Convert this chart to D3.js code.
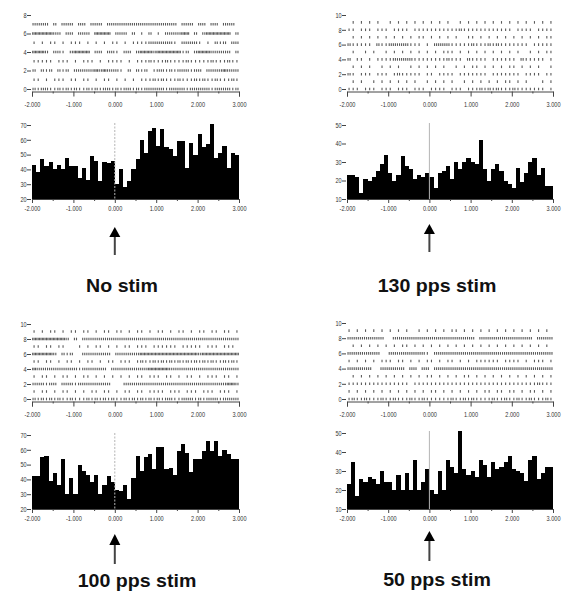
<!DOCTYPE html>
<html>
<head>
<meta charset="utf-8">
<script src="https://cdn.jsdelivr.net/npm/d3@7"></script>
<style>
  html, body { margin: 0; padding: 0; background: #fff; }
  svg { display: block; }
</style>
</head>
<body>
<script>
// ---- data -------------------------------------------------------------
// peri-stimulus time axis (s)
const timeTicks = [-2, -1, 0, 1, 2, 3];
const timeMinorTicks = [-1.5, -0.5, 0.5, 1.5, 2.5];
const binWidth = 0.1;
const binStarts = d3.range(50).map(i => -2 + i * binWidth);

const conditionNames = ["No stim", "130 pps stim", "100 pps stim", "50 pps stim"];

// firing rate per 100 ms bin (spikes/s)
const rateNoStim = [43, 38, 47, 42, 45, 40, 43, 40, 48, 42,
                    42, 34, 41, 33, 49, 46, 32, 45, 44, 46,
                    30, 40, 28, 32, 40, 47, 60, 51, 66, 68,
                    56, 67, 55, 54, 49, 59, 59, 41, 58, 50,
                    64, 55, 57, 71, 48, 51, 56, 41, 51, 50];
const rate130 = [23, 23, 22, 13, 21, 20, 22, 25, 29, 34,
                 24, 20, 23, 33, 28, 26, 21, 23, 22, 24,
                 22, 16, 24, 25, 28, 21, 30, 26, 30, 32,
                 30, 29, 42, 26, 20, 26, 29, 25, 20, 18,
                 16, 27, 19, 24, 30, 32, 23, 27, 17, 17];
const rate100 = [42, 42, 55, 56, 39, 44, 36, 54, 30, 41,
                 30, 50, 46, 43, 38, 43, 30, 36, 42, 38,
                 33, 32, 36, 27, 41, 56, 46, 55, 57, 47,
                 62, 62, 47, 48, 43, 59, 64, 58, 45, 54,
                 54, 59, 66, 59, 66, 56, 60, 57, 54, 54];
const rate50 = [23, 35, 17, 26, 24, 27, 26, 23, 30, 24,
                24, 20, 28, 20, 29, 20, 36, 20, 24, 31,
                20, 18, 30, 20, 36, 32, 29, 51, 31, 28,
                30, 27, 36, 33, 27, 35, 31, 32, 35, 38,
                31, 30, 29, 25, 36, 38, 26, 29, 32, 32];

// spike rasters: one string per trial (bottom trial first),
// each digit = number of spikes in a 100 ms slot
const rasterNoStim = [
  "2122112121 2112121221 2122121222 2212222122 2221222212",
  "1101011101 1011010110 1010101112 1211121112 1211211121",
  "2021202120 2222232322 2102021201 2212122212 2022223222",
  "1111101110 1011101011 1101011121 1121111211 1112111211",
  "3332022102 3333022022 1022023332 3333331202 3332222202",
  "1010110101 1101010101 1010111122 2222102222 1010212022",
  "3333322022 0222033330 2220201020 1022223302 0233333302",
  "2222020222 0220222022 2222222222 2222202220 2202202220"
];
const raster130 = [
  "1110111011 1011101110 1111011101 1121212111 2111111101",
  "0101001010 1010101001 0101010010 1010101011 0101000101",
  "2101110111 0121111101 1011110111 1111011111 1101111011",
  "0101010010 1010010101 0101001010 1101010101 1010101001",
  "2011010111 1222221111 1111211102 1111011111 1021111101",
  "0100101001 0101010101 0101110101 0101010101 0100101011",
  "2111110211 2222211101 0222211111 2111212111 1111011111",
  "0101010101 0101010110 1010101001 1010101010 1010101011",
  "1101110111 0111101111 1111111211 1111111111 0111101111",
  "0101010100 1010101010 1010100101 0101010101 0101010101"
];
const raster100 = [
  "2121212112 1112121212 1121212121 2122112221 2122212222",
  "1011010110 1010110110 1011011011 1101110111 0111011101",
  "2221220222 1222222220 0022222222 2222222222 2222222332",
  "1011010110 1011010101 0101011011 1011010110 1011101101",
  "3222222222 2122222202 2222222233 3332222222 2222222222",
  "1101101011 0101101011 0111012112 1212121212 1212112121",
  "3333320212 0022222220 2222223333 3333333333 2333333333",
  "1101101100 0101011010 1011011101 1111101111 1011101110",
  "3333333320 2022222222 2222222222 2222222222 2222222222",
  "1010110101 1011010110 1101011010 1101011010 1101101101"
];
const raster50 = [
  "1211211121 1211121121 1111121121 2111121121 1211211121",
  "1010101010 1010101010 1101010101 0101101101 1010110101",
  "1111111111 1111101111 1111111111 1111111111 1111112111",
  "0101010101 0101010101 1010101011 0101010101 0101010101",
  "2222220022 2222022022 0222222222 2222222222 2222222222",
  "1010101011 1011010101 1010110101 0111111011 1101011101",
  "2222222200 2222222221 0222222222 2222222222 2222222222",
  "0101010101 0101101010 1010101010 1010101010 1010101010",
  "2222222220 0222222222 2222222222 2022222222 2222202222",
  "1010101010 1010100101 0101011010 1010101010 1010101010"
];

const rasterTicks8 = [0, 2, 4, 6, 8];
const rasterTicks10 = [0, 2, 4, 6, 8, 10];
const rateTicksHigh = [20, 30, 40, 50, 60, 70];
const rateTicksLow = [10, 20, 30, 40, 50];

// ---- layout -----------------------------------------------------------
const W = 565, H = 591;
const panels = [
  { title: conditionNames[0], rates: rateNoStim, raster: rasterNoStim,
    rMax: 8, rTicks: rasterTicks8, hDomain: [20, 70], hTicks: rateTicksHigh,
    xr: [32, 239], rY: [89, 15], hY: [199, 125],
    arrow: [227, 237, 255], titleX: 122, titleY: 292, zeroDash: "2,1.5" },
  { title: conditionNames[1], rates: rate130, raster: raster130,
    rMax: 10, rTicks: rasterTicks10, hDomain: [10, 50], hTicks: rateTicksLow,
    xr: [347, 553], rY: [89, 15], hY: [199, 125],
    arrow: [224, 234, 252], titleX: 437, titleY: 292, zeroDash: null },
  { title: conditionNames[2], rates: rate100, raster: raster100,
    rMax: 10, rTicks: rasterTicks10, hDomain: [20, 70], hTicks: rateTicksHigh,
    xr: [32, 239], rY: [399, 324], hY: [509, 435],
    arrow: [534, 545, 564], titleX: 137, titleY: 587, zeroDash: "2,1.5" },
  { title: conditionNames[3], rates: rate50, raster: raster50,
    rMax: 10, rTicks: rasterTicks10, hDomain: [10, 50], hTicks: rateTicksLow,
    xr: [347, 553], rY: [399, 323], hY: [509, 433],
    arrow: [531, 541, 561], titleX: 437, titleY: 586, zeroDash: null }
];

const svg = d3.select("body").append("svg")
  .attr("width", W).attr("height", H)
  .attr("font-family", "'Liberation Sans', Arial, sans-serif");
svg.append("rect").attr("width", W).attr("height", H).attr("fill", "#fff");

const tickFont = 7, tickSquash = 0.8, tickColor = "#333";

function styleAxis(g) {
  g.selectAll("path.domain").attr("stroke", "#444").attr("stroke-width", 1);
  g.selectAll(".tick line").attr("stroke", "#444");
  g.selectAll(".tick text")
    .attr("font-size", tickFont)
    .attr("fill", tickColor)
    .attr("font-family", "'Liberation Sans', Arial, sans-serif")
    .attr("transform", `scale(${tickSquash},1)`);
}

function timeAxis(parent, x, yPos, majorLen, pad) {
  const g = parent.append("g").attr("transform", `translate(0,${yPos})`);
  g.call(d3.axisBottom(x).tickValues(timeTicks)
    .tickFormat(d => d.toFixed(3)).tickSize(majorLen).tickPadding(pad));
  const gm = parent.append("g").attr("transform", `translate(0,${yPos})`);
  gm.call(d3.axisBottom(x).tickValues(timeMinorTicks).tickFormat("").tickSize(2));
  gm.select("path.domain").remove();
  styleAxis(g); styleAxis(gm);
}

function leftAxis(parent, y, ticks, xPos) {
  const g = parent.append("g").attr("transform", `translate(${xPos},0)`);
  g.call(d3.axisLeft(y).tickValues(ticks).tickSize(4).tickPadding(1.5));
  g.select("path.domain").remove();
  styleAxis(g);
}

panels.forEach(p => {
  const g = svg.append("g");
  const x = d3.scaleLinear().domain([-2, 3]).range(p.xr);

  // ---- raster ----
  const yr = d3.scaleLinear().domain([0, p.rMax]).range(p.rY);
  const spikes = [];
  p.raster.forEach((row, trial) => {
    const counts = row.replace(/\s/g, "").split("").map(Number);
    counts.forEach((n, slot) => {
      for (let j = 0; j < n; j++) {
        spikes.push({ trial, t: binStarts[slot] + (j + 0.5) / n * binWidth });
      }
    });
  });
  g.append("g").selectAll("line").data(spikes).join("line")
    .attr("x1", d => x(d.t)).attr("x2", d => x(d.t))
    .attr("y1", d => yr(d.trial) - 1.3).attr("y2", d => yr(d.trial) + 1.3)
    .attr("stroke", "#5a5a5a").attr("stroke-width", 1.1);
  leftAxis(g, yr, p.rTicks, p.xr[0] - 1);
  timeAxis(g, x, p.rY[0] + 2.5, 5, 6);

  // ---- peri-stimulus histogram ----
  const yh = d3.scaleLinear().domain(p.hDomain).range(p.hY);
  const bx = t => Math.round(x(t));
  g.append("g").attr("shape-rendering", "crispEdges")
    .selectAll("rect").data(p.rates).join("rect")
    .attr("x", (d, i) => bx(binStarts[i]))
    .attr("width", (d, i) => bx(binStarts[i] + binWidth) - bx(binStarts[i]))
    .attr("y", d => yh(d))
    .attr("height", d => yh(p.hDomain[0]) - yh(d))
    .attr("fill", "#000");
  g.append("line")
    .attr("x1", x(0)).attr("x2", x(0))
    .attr("y1", yh(p.hDomain[1]) - 2).attr("y2", yh(p.hDomain[0]))
    .attr("stroke", "#b4b4b4").attr("stroke-width", 1)
    .attr("stroke-dasharray", p.zeroDash);
  leftAxis(g, yh, p.hTicks, p.xr[0] - 1);
  timeAxis(g, x, p.hY[0], 4, 3);

  // ---- stimulus onset arrow ----
  const ax = x(0);
  const [aTop, aHead, aBot] = p.arrow;
  g.append("line")
    .attr("x1", ax).attr("x2", ax).attr("y1", aHead - 1).attr("y2", aBot)
    .attr("stroke", "#444").attr("stroke-width", 2);
  g.append("path")
    .attr("d", `M${ax},${aTop} L${ax + 5.5},${aHead} L${ax - 5.5},${aHead} Z`)
    .attr("fill", "#000");

  // ---- condition label ----
  g.append("text")
    .attr("transform", `translate(${p.titleX},${p.titleY}) scale(1.12,1)`)
    .attr("text-anchor", "middle")
    .attr("font-size", 17.5).attr("font-weight", "bold").attr("fill", "#111")
    .text(p.title);
});
</script>
</body>
</html>
